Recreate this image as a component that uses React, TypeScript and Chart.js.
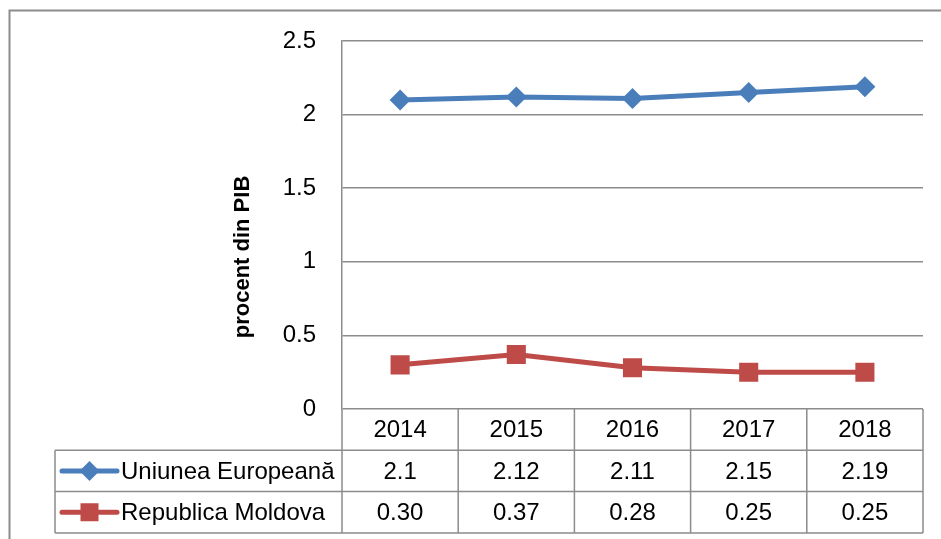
import React, { useEffect, useRef } from "react";
import { Chart, registerables } from "chart.js";

Chart.register(...registerables);

const years = ["2014", "2015", "2016", "2017", "2018"];
const euValues = [2.1, 2.12, 2.11, 2.15, 2.19];
const mdValues = [0.3, 0.37, 0.28, 0.25, 0.25];
const euLabel = "Uniunea Europeană";
const mdLabel = "Republica Moldova";
const yTitle = "procent din PIB";

const BLUE = "#4A7EBB";
const RED = "#BE4B48";
const GRID = "#8c8c8c";
const FONT = "'Liberation Sans', Arial, sans-serif";
const FS = 24;

const tablePlugin = {
  id: "dataTable",
  afterDraw(chart: any) {
    const ctx = chart.ctx as CanvasRenderingContext2D;
    const area = chart.chartArea;
    const xs = chart.scales.x;
    const n = years.length;
    const colW = (area.right - area.left) / n;
    const top = area.bottom;
    const rowH = 41.3;
    const r1 = top + rowH;
    const r2 = r1 + rowH;
    const r3 = r2 + rowH;
    const legLeft = 55;

    ctx.save();
    // outer chart border
    ctx.strokeStyle = GRID;
    ctx.lineWidth = 2;
    ctx.beginPath();
    ctx.moveTo(9.5, 539);
    ctx.lineTo(9.5, 10.5);
    ctx.lineTo(941, 10.5);
    ctx.stroke();

    // table grid
    ctx.lineWidth = 1.5;
    ctx.beginPath();
    for (let i = 0; i <= n; i++) {
      const x = area.left + i * colW;
      ctx.moveTo(x, top);
      ctx.lineTo(x, r3);
    }
    ctx.moveTo(legLeft, r1);
    ctx.lineTo(legLeft, r3);
    [r1, r2, r3].forEach((y) => {
      ctx.moveTo(legLeft, y);
      ctx.lineTo(area.right, y);
    });
    ctx.stroke();

    // text
    ctx.fillStyle = "#000";
    ctx.font = `${FS}px ${FONT}`;
    ctx.textAlign = "center";
    ctx.textBaseline = "middle";
    years.forEach((yr, i) => {
      const cx = xs.getPixelForValue(i);
      ctx.fillText(yr, cx, (top + r1) / 2 + 1);
      ctx.fillText(String(euValues[i]), cx, (r1 + r2) / 2 + 1);
      ctx.fillText(mdValues[i].toFixed(2), cx, (r2 + r3) / 2 + 1);
    });

    // legend keys
    ctx.textAlign = "left";
    ctx.fillText(euLabel, 121, (r1 + r2) / 2 + 1);
    ctx.fillText(mdLabel, 121, (r2 + r3) / 2 + 1);

    const keyL = 62;
    const keyR = 117;
    const keyC = (keyL + keyR) / 2;
    const y1 = (r1 + r2) / 2;
    const y2 = (r2 + r3) / 2;
    ctx.lineCap = "round";
    ctx.lineWidth = 5;
    ctx.strokeStyle = BLUE;
    ctx.beginPath();
    ctx.moveTo(keyL, y1);
    ctx.lineTo(keyR, y1);
    ctx.stroke();
    ctx.fillStyle = BLUE;
    ctx.beginPath();
    ctx.moveTo(keyC, y1 - 10);
    ctx.lineTo(keyC + 10, y1);
    ctx.lineTo(keyC, y1 + 10);
    ctx.lineTo(keyC - 10, y1);
    ctx.closePath();
    ctx.fill();

    ctx.strokeStyle = RED;
    ctx.beginPath();
    ctx.moveTo(keyL, y2);
    ctx.lineTo(keyR, y2);
    ctx.stroke();
    ctx.fillStyle = RED;
    ctx.fillRect(keyC - 9, y2 - 9, 18, 18);

    // y title
    ctx.fillStyle = "#000";
    ctx.font = `bold 22px ${FONT}`;
    ctx.translate(243, 257);
    ctx.rotate(-Math.PI / 2);
    ctx.textAlign = "center";
    ctx.textBaseline = "middle";
    ctx.fillText(yTitle, 0, 0);
    ctx.restore();
  },
};

export default function App() {
  const ref = useRef<HTMLCanvasElement>(null);

  useEffect(() => {
    document.body.style.margin = "0";
    const chart = new Chart(ref.current as HTMLCanvasElement, {
      type: "line",
      data: {
        labels: years,
        datasets: [
          {
            label: euLabel,
            data: euValues,
            borderColor: BLUE,
            backgroundColor: BLUE,
            borderWidth: 5,
            pointStyle: "rectRot",
            pointRadius: 10.5,
            pointBorderWidth: 0,
            tension: 0,
          },
          {
            label: mdLabel,
            data: mdValues,
            borderColor: RED,
            backgroundColor: RED,
            borderWidth: 5,
            pointStyle: "rect",
            pointRadius: 13.5,
            pointBorderWidth: 0,
            tension: 0,
          },
        ],
      },
      options: {
        responsive: false,
        animation: false,
        devicePixelRatio: 1,
        layout: { padding: { left: 0, top: 41, right: 18, bottom: 130 } },
        plugins: { legend: { display: false }, tooltip: { enabled: false } },
        scales: {
          x: {
            display: false,
            offset: true,
          },
          y: {
            min: 0,
            max: 2.5,
            afterFit: (s: any) => {
              s.width = 342;
            },
            ticks: {
              stepSize: 0.5,
              padding: 26,
              color: "#000",
              font: { family: FONT, size: FS },
              callback: (v: any) => String(Number(v)),
            },
            grid: { color: GRID, lineWidth: 1.5, drawTicks: false },
            border: { display: true, color: GRID, width: 1.5 },
          },
        },
      },
      plugins: [tablePlugin],
    } as any);
    return () => chart.destroy();
  }, []);

  return (
    <div style={{ position: "fixed", left: 0, top: 0, width: 941, height: 539, background: "#fff" }}>
      <canvas ref={ref} width={941} height={539} />
    </div>
  );
}
